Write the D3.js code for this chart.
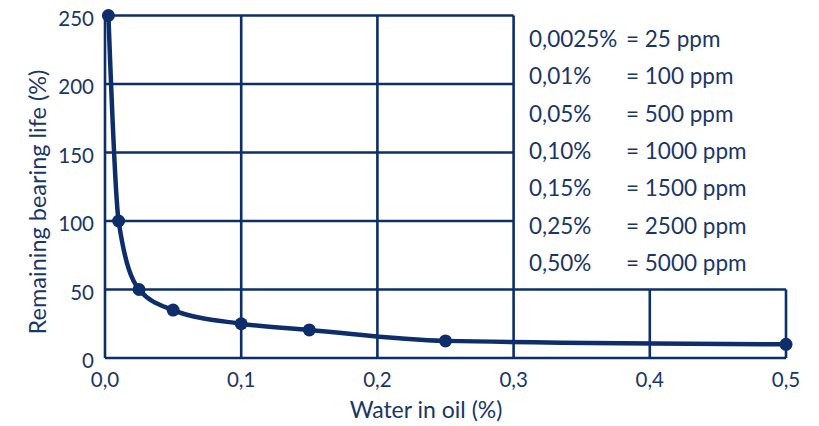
<!DOCTYPE html>
<html>
<head>
<meta charset="utf-8">
<script src="https://cdn.jsdelivr.net/npm/d3@7"></script>
<style>
  html, body { margin: 0; padding: 0; background: #fff; }
  svg { display: block; font-family: Lato, "Open Sans", sans-serif; }
</style>
</head>
<body>
<svg id="chart" width="819" height="426"></svg>
<script>
// ---- data ----
const waterPct = [0.0025, 0.01, 0.025, 0.05, 0.1, 0.15, 0.25, 0.5];
const lifePct  = [250, 100, 50, 35, 25, 20.5, 12.5, 10];
const xTicks = [0, 0.1, 0.2, 0.3, 0.4, 0.5];
const xTickLabels = ["0,0", "0,1", "0,2", "0,3", "0,4", "0,5"];
const yTicks = [0, 50, 100, 150, 200, 250];
const legendPct = ["0,0025%", "0,01%", "0,05%", "0,10%", "0,15%", "0,25%", "0,50%"];
const legendPpm = ["= 25 ppm", "= 100 ppm", "= 500 ppm", "= 1000 ppm", "= 1500 ppm", "= 2500 ppm", "= 5000 ppm"];
const xTitle = "Water in oil (%)";
const yTitle = "Remaining bearing life (%)";

// ---- layout ----
const navy = "#0d2e6b";
const textCol = "#1a3668";
const L = 105, R = 786, T = 15.5, B = 358;
const svg = d3.select("#chart");
const x = d3.scaleLinear().domain([0, 0.5]).range([L, R]);
const y = d3.scaleLinear().domain([0, 250]).range([B, T]);

// legend box region: x > 0.3, y > 50
const boxX = x(0.3), boxY = y(50);

const grid = svg.append("g").attr("stroke", navy).attr("stroke-width", 2.6).attr("fill", "none");
yTicks.forEach(v => {
  const x2 = (v > 50) ? boxX : R;
  grid.append("line").attr("x1", L).attr("x2", x2).attr("y1", y(v)).attr("y2", y(v));
});
xTicks.forEach(v => {
  const y1 = (v > 0.3) ? boxY : T;
  grid.append("line").attr("x1", x(v)).attr("x2", x(v)).attr("y1", y1).attr("y2", B);
});

// tick labels
svg.append("g").selectAll("text").data(yTicks).join("text")
  .attr("x", 94).attr("y", d => y(d) + 5)
  .attr("text-anchor", "end").attr("dominant-baseline", "middle")
  .attr("font-size", 20.5).attr("fill", textCol)
  .text(d => d);
svg.append("g").selectAll("text").data(xTicks).join("text")
  .attr("x", d => x(d)).attr("y", 387)
  .attr("text-anchor", "middle")
  .attr("font-size", 20.5).attr("fill", textCol)
  .text((d, i) => xTickLabels[i]);

// axis titles
svg.append("text").attr("x", 426).attr("y", 418).attr("text-anchor", "middle")
  .attr("font-size", 23).attr("fill", textCol).text(xTitle);
svg.append("text").attr("transform", "translate(37,202) rotate(-90)").attr("text-anchor", "middle")
  .attr("dominant-baseline", "central")
  .attr("font-size", 23.5).attr("fill", textCol).text(yTitle);

// curve
const pts = waterPct.map((w, i) => [w, lifePct[i]]);
const line = d3.line().x(d => x(d[0])).y(d => y(d[1])).curve(d3.curveMonotoneX);
svg.append("path").datum(pts).attr("d", line)
  .attr("fill", "none").attr("stroke", navy).attr("stroke-width", 4.5)
  .attr("stroke-linejoin", "round");
svg.append("g").selectAll("circle").data(pts).join("circle")
  .attr("cx", d => x(d[0])).attr("cy", d => y(d[1])).attr("r", 6.5)
  .attr("fill", navy);

// legend
const lg = svg.append("g").attr("font-size", 22.5).attr("fill", textCol);
legendPct.forEach((t, i) => {
  const by = 47 + i * 37.3;
  lg.append("text").attr("x", 529).attr("y", by).text(t);
  lg.append("text").attr("x", 626).attr("y", by).text(legendPpm[i]);
});
</script>
</body>
</html>
